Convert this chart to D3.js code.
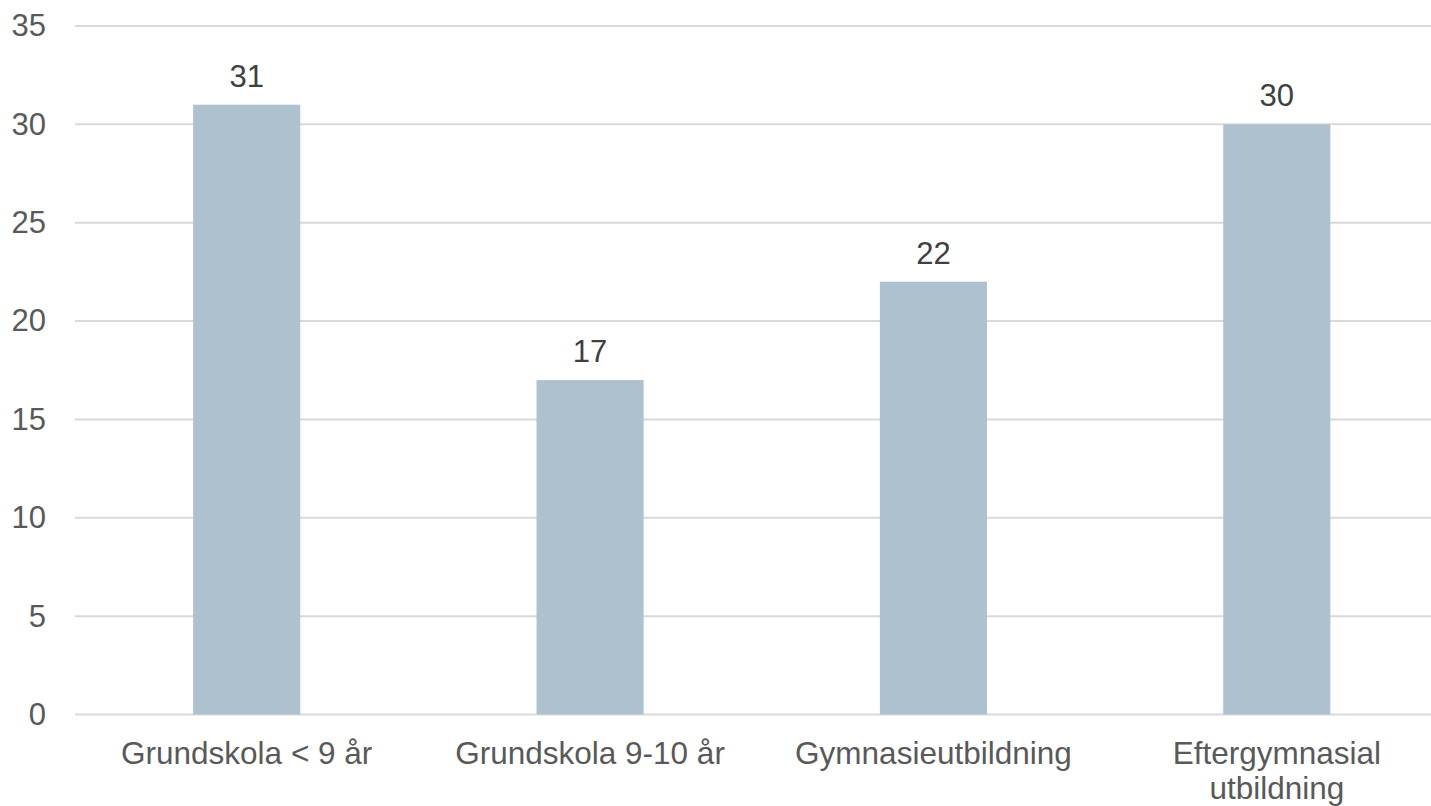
<!DOCTYPE html>
<html>
<head>
<meta charset="utf-8">
<script src="https://cdn.jsdelivr.net/npm/d3@7"></script>
<style>
  html, body { margin: 0; padding: 0; background: #fff; }
  svg { display: block; }
  text { font-family: "Liberation Sans", Arial, sans-serif; }
</style>
</head>
<body>
<script>
const categories = ["Grundskola < 9 år", "Grundskola 9-10 år", "Gymnasieutbildning", "Eftergymnasial utbildning"];
const categoryLines = [["Grundskola < 9 år"], ["Grundskola 9-10 år"], ["Gymnasieutbildning"], ["Eftergymnasial", "utbildning"]];
const values = [31, 17, 22, 30];
const yTicks = [0, 5, 10, 15, 20, 25, 30, 35];

const W = 1431, H = 806;
const svg = d3.select("body").append("svg").attr("width", W).attr("height", H);

const x = d3.scaleBand().domain(categories).range([75, 1448.5]).paddingInner(0.688).paddingOuter(0.344);
const y = d3.scaleLinear().domain([0, 35]).range([714.5, 26]);

// gridlines
svg.append("g").selectAll("line").data(yTicks).join("line")
  .attr("x1", 75).attr("x2", W)
  .attr("y1", d => y(d)).attr("y2", d => y(d))
  .attr("stroke", "#d9d9d9").attr("stroke-width", 2);

// y axis labels
const yAxis = d3.axisLeft(y).tickValues(yTicks).tickSize(0).tickPadding(0);
const gy = svg.append("g").attr("transform", "translate(46,0)").call(yAxis);
gy.select(".domain").remove();
gy.selectAll("text").attr("font-size", 31).attr("fill", "#595959")
  .attr("font-family", "'Liberation Sans', Arial, sans-serif");

// bars
svg.append("g").selectAll("rect").data(values).join("rect")
  .attr("x", (d, i) => x(categories[i]))
  .attr("width", x.bandwidth())
  .attr("y", d => y(d))
  .attr("height", d => y(0) - y(d))
  .attr("fill", "#adc1cf");

// value labels
svg.append("g").selectAll("text").data(values).join("text")
  .attr("x", (d, i) => x(categories[i]) + x.bandwidth() / 2)
  .attr("y", d => y(d) - 18)
  .attr("text-anchor", "middle")
  .attr("font-size", 31)
  .attr("fill", "#404040")
  .text(d => d);

// category labels
const cg = svg.append("g").selectAll("text").data(categories).join("text")
  .attr("x", d => x(d) + x.bandwidth() / 2)
  .attr("y", 764)
  .attr("text-anchor", "middle")
  .attr("font-size", 31.5)
  .attr("fill", "#595959");
cg.each(function(d, i) {
  const t = d3.select(this);
  categoryLines[i].forEach((line, j) => {
    t.append("tspan").attr("x", x(d) + x.bandwidth() / 2).attr("dy", j === 0 ? 0 : 35).text(line);
  });
});
</script>
</body>
</html>
